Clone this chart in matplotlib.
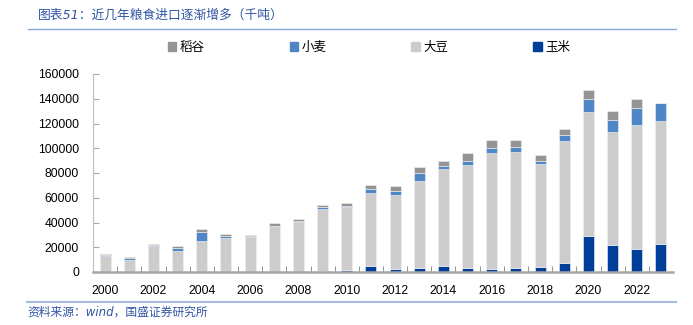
import matplotlib.pyplot as plt
from matplotlib.patches import Patch
from matplotlib.lines import Line2D
import numpy as np

plt.rcParams['font.family'] = ['Liberation Sans', 'Noto Sans CJK SC', 'DejaVu Sans']

# 千吨
years = list(range(2000, 2024))
corn = [0, 0, 0, 0, 0, 0, 0, 0, 0, 1000, 1300, 4900, 2400, 3000, 5200, 3000,
        2200, 3000, 4000, 7300, 29100, 21600, 18400, 23000]
soy = [12700, 10000, 21000, 16750, 25400, 27800, 28300, 37000, 40500, 50000, 51600, 59300,
       59700, 70400, 78200, 83100, 93600, 94100, 82900, 98500, 99900, 91500, 100600, 99200]
wheat = [800, 1300, 600, 2650, 7300, 1300, 600, 200, 500, 1400, 800, 3000,
         3200, 6500, 2400, 3500, 4300, 3600, 2700, 5100, 10500, 9400, 13500, 14300]
rice = [1400, 800, 1100, 1900, 2400, 2000, 1400, 2000, 2200, 2100, 2100, 3500,
        4300, 4600, 4000, 6200, 6500, 5900, 4600, 4600, 7800, 7500, 7000, 0]

c_corn = '#003f97'
c_soy = '#cccccc'
c_wheat = '#4f86c6'
c_rice = '#949494'
title_blue = '#2f55a4'

fig = plt.figure(figsize=(6.93, 3.25), dpi=100)
ax = fig.add_axes([93/693, 1-272/325, 580/693, 198/325])

x = np.arange(len(years))
w = 0.46
b1 = np.array(corn)
b2 = b1 + np.array(soy)
b3 = b2 + np.array(wheat)
ax.bar(x, corn, w, color=c_corn, edgecolor='#f2f2f2', linewidth=0.4)
ax.bar(x, soy, w, bottom=b1, color=c_soy, edgecolor='#f2f2f2', linewidth=0.4)
ax.bar(x, wheat, w, bottom=b2, color=c_wheat, edgecolor='#f2f2f2', linewidth=0.4)
ax.bar(x, rice, w, bottom=b3, color=c_rice, edgecolor='#f2f2f2', linewidth=0.4)

ax.set_xlim(-0.5, len(years) - 0.5)
ax.set_ylim(0, 160000)
ax.set_yticks(range(0, 160001, 20000))
ax.tick_params(axis='y', labelsize=8.8, length=4, color='#a6a6a6', direction='in', pad=10)

ax.set_xticks(x[::2])
ax.set_xticklabels([str(y) for y in years[::2]])
ax.set_xticks(x[:-1] + 0.5, minor=True)
ax.tick_params(axis='x', which='major', length=0, labelsize=8.8, pad=9)
ax.tick_params(axis='x', which='minor', length=4, direction='in', color='#808080')

for s in ['top', 'right']:
    ax.spines[s].set_visible(False)
ax.spines['left'].set_color('#bfbfbf')
ax.spines['bottom'].set_color('#a6a6a6')
ax.spines['bottom'].set_linewidth(1.8)

handles = [Patch(color=c_rice, label='稻谷'), Patch(color=c_wheat, label='小麦'),
           Patch(color=c_soy, label='大豆'), Patch(color=c_corn, label='玉米')]
fig.legend(handles=handles, loc='center', bbox_to_anchor=(369/693, 1-47/325), ncol=4,
           frameon=False, handlelength=0.7, handleheight=0.7,
           handletextpad=0.25, columnspacing=6.8, prop={'family': ['Noto Sans CJK SC'], 'size': 9})

fig.text(38/693, 1-15/325, '图表51：近几年粮食进口逐渐增多（千吨）', fontsize=9.2,
         color=title_blue, style='italic', va='center', ha='left',
         family=['DejaVu Sans', 'Noto Sans CJK SC'])
fig.add_artist(Line2D([28/693, 676/693], [1-28.5/325, 1-28.5/325], color='#8eaadb', lw=1))

fig.add_artist(Line2D([27/693, 676/693], [1-302/325, 1-302/325], color='#a9bce0', lw=1.5))
fig.text(27/693, 1-312/325, '资料来源：wind，国盛证券研究所', fontsize=8.5,
         color=title_blue, style='italic', va='center', ha='left',
         family=['DejaVu Sans', 'Noto Sans CJK SC'])

fig.savefig('out.png', dpi=100)
